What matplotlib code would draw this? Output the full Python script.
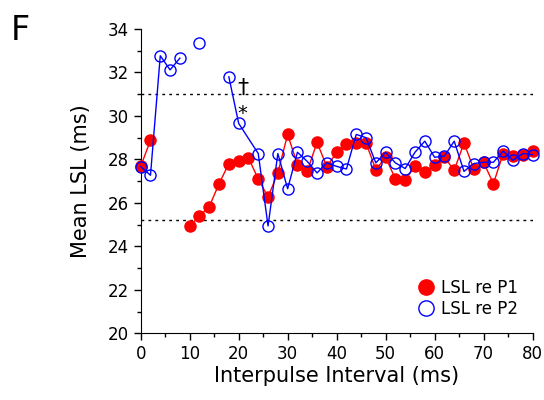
import matplotlib
matplotlib.use("Agg")
import matplotlib.pyplot as plt
from matplotlib.lines import Line2D
import numpy as np

nan = np.nan

# interpulse interval (ms)
x_p1 = [0, 2, 4, 6, 8, 10, 12, 14, 16, 18, 20, 22, 24, 26, 28, 30, 32, 34, 36, 38, 40,
        42, 44, 46, 48, 50, 52, 54, 56, 58, 60, 62, 64, 66, 68, 70, 72, 74, 76, 78, 80]
lsl_p1 = [27.68, 28.88, nan, nan, nan, 24.94, 25.40, 25.83, 26.88, 27.81, 27.91, 28.07, 27.10,
          26.27, 27.38, 29.15, 27.76, 27.45, 28.79, 27.66, 28.33, 28.69, 28.76, 28.76, 27.53,
          28.10, 27.10, 27.07, 27.68, 27.41, 27.76, 28.10, 27.50, 28.76, 27.56, 27.87, 26.88,
          28.27, 28.15, 28.22, 28.38]

x_p2 = [0, 2, 4, 6, 8, 10, 12, 14, 16, 18, 20, 24, 26, 28, 30, 32, 34, 36, 38, 40,
        42, 44, 46, 48, 50, 52, 54, 56, 58, 60, 62, 64, 66, 68, 70, 72, 74, 76, 78, 80]
lsl_p2 = [27.67, 27.27, 32.77, 32.12, 32.66, nan, 33.35, nan, nan, 31.80, 29.66, 28.27,
          24.94, 28.27, 26.65, 28.33, 27.91, 27.38, 27.84, 27.68, 27.56, 29.15, 29.00, 27.84,
          28.33, 27.84, 27.58, 28.33, 28.84, 28.10, 28.15, 28.84, 27.45, 27.81, 27.87, 27.87,
          28.38, 27.96, 28.27, 28.22]

upper_bound = 31.0
lower_bound = 25.2

fig = plt.figure(figsize=(5.44, 4), dpi=100)
ax = fig.add_axes([0.2586, 0.1667, 0.7204, 0.7608])

ax.axhline(upper_bound, color='black', lw=1, ls=(0, (2, 3)))
ax.axhline(lower_bound, color='black', lw=1, ls=(0, (2, 3)))

ax.plot(x_p1, lsl_p1, color='red', lw=1, marker='o', ms=8, mfc='red', mec='red',
        clip_on=False, zorder=3)
ax.plot(x_p2, lsl_p2, color='blue', lw=1, marker='o', ms=8, mfc='none', mec='blue',
        clip_on=False, zorder=4)

# significance marks
ax.text(20.8, 31.3, '\u2020', fontsize=16, ha='center', va='center')
ax.text(20.8, 30.1, '*', fontsize=14, ha='center', va='center')

ax.set_xlim(0, 80)
ax.set_ylim(20, 34)
ax.set_xticks(range(0, 81, 10))
ax.set_xticks(range(5, 80, 10), minor=True)
ax.set_yticks(range(20, 35, 2))
ax.set_yticks(range(21, 34, 2), minor=True)
ax.tick_params(which='major', direction='out', length=5, width=1, labelsize=12)
ax.tick_params(which='minor', direction='out', length=3, width=1)
ax.spines['top'].set_visible(False)
ax.spines['right'].set_visible(False)

ax.set_xlabel('Interpulse Interval (ms)', fontsize=15, labelpad=2)
ax.set_ylabel('Mean LSL (ms)', fontsize=15, labelpad=12)

handles = [Line2D([], [], ls='none', marker='o', ms=11, mfc='red', mec='red'),
           Line2D([], [], ls='none', marker='o', ms=11, mfc='none', mec='blue')]
ax.legend(handles, ['LSL re P1', 'LSL re P2'], loc='lower right', frameon=False,
          fontsize=12, handlelength=1, handletextpad=0.4, labelspacing=0.2,
          bbox_to_anchor=(1.0, 0.0))

fig.text(0.02, 0.965, 'F', fontsize=24, va='top', ha='left')

fig.savefig('out.png', dpi=100)
